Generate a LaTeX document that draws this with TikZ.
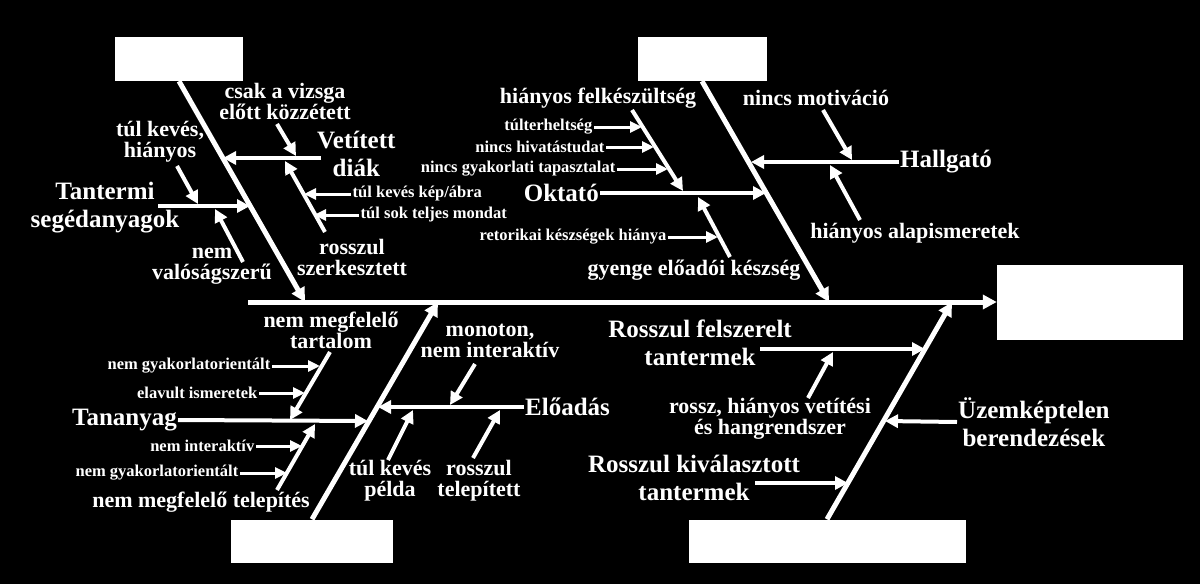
\documentclass[tikz,border=0pt]{standalone}
\usepackage{fontspec}
\setmainfont{Liberation Serif}
\usetikzlibrary{arrows.meta}

\tikzset{
  box/.style={fill=white, inner sep=0pt},
  bigtxt/.style={text=white, align=center, inner sep=1pt, font=\bfseries\fontsize{25}{28}\selectfont},
  midtxt/.style={text=white, align=center, inner sep=1pt, font=\bfseries\fontsize{22}{21}\selectfont},
  smalltxt/.style={text=white, inner sep=1.5pt, font=\bfseries\fontsize{16.5}{18}\selectfont},
  bone/.style={draw=white, line width=5pt, -{Triangle[length=14pt,width=14pt]}},
  twig/.style={draw=white, line width=4pt, -{Triangle[length=13pt,width=13pt]}},
  leaf/.style={draw=white, line width=3pt, -{Triangle[length=12pt,width=11pt]}},
}

\begin{document}
\begin{tikzpicture}[x=1pt, y=-1pt]
  \fill[black] (0,0) rectangle (1200,584);
  \useasboundingbox (0,0) rectangle (1200,584);

  \node[box, minimum width=128pt, minimum height=44pt] (c1) at (179,59) {};
  \node[box, minimum width=129pt, minimum height=44pt] (c2) at (702,59) {};
  \node[box, minimum width=162pt, minimum height=43pt] (c3) at (312,541) {};
  \node[box, minimum width=277pt, minimum height=43pt] (c4) at (827,541) {};
  \node[box, minimum width=186pt, minimum height=75pt] (head) at (1090,302) {};

  \coordinate (tail) at (248,302);
  \coordinate (s1) at (305,302);
  \coordinate (s2) at (829,302);
  \coordinate (s3) at (438,302);
  \coordinate (s4) at (952,302);

  \draw[bone] (tail) -- (head.west);
  \draw[bone] (c1.south) -- (s1);
  \draw[bone] (c2.south) -- (s2);
  \draw[bone] (c3.north) -- (s3);
  \draw[bone] (c4.north) -- (s4);

  % upper left
  \node[bigtxt, anchor=west] (vetit) at (316,154) {Vetített\\diák};
  \coordinate (vetitA) at (321,158);
  \coordinate (vetitB) at (223,158);
  \draw[twig] (vetitA) -- (vetitB);
  \node[midtxt] (csak) at (285,101) {csak a vizsga\\előtt közzétett};
  \coordinate (csakA) at (277,124);
  \coordinate (csakB) at (296,156);
  \draw[twig] (csakA) -- (csakB);
  \node[midtxt] (rossz1) at (352,257) {rosszul\\szerkesztett};
  \coordinate (rossz1A) at (325,232);
  \coordinate (rossz1B) at (285,161);
  \draw[twig] (rossz1A) -- (rossz1B);
  \node[smalltxt, anchor=west] (kepabra) at (351,194) {túl kevés kép/ábra};
  \coordinate (kepabraB) at (304,194);
  \draw[leaf] (kepabra.west) -- (kepabraB);
  \node[smalltxt, anchor=west] (mondat) at (359,215) {túl sok teljes mondat};
  \coordinate (mondatB) at (314,215);
  \draw[leaf] (mondat.west) -- (mondatB);

  \node[bigtxt] (tseg) at (105,208) {Tantermi\\segédanyagok};
  \coordinate (tsegA) at (158,206);
  \coordinate (tsegB) at (250,206);
  \draw[twig] (tsegA) -- (tsegB);
  \node[midtxt] (hiany1) at (160,142) {túl kevés,\\hiányos};
  \coordinate (hiany1A) at (177,166);
  \coordinate (hiany1B) at (198,204);
  \draw[twig] (hiany1A) -- (hiany1B);
  \node[midtxt] (valos) at (212,266) {nem\\valóságszerű};
  \coordinate (valosA) at (243,262);
  \coordinate (valosB) at (215,209);
  \draw[twig] (valosA) -- (valosB);

  % upper right
  \node[bigtxt, anchor=east] (oktato) at (600,193) {Oktató};
  \coordinate (oktatoB) at (766,193);
  \draw[twig] (oktato.east) -- (oktatoB);
  \node[midtxt] (felk) at (598,98) {hiányos felkészültség};
  \coordinate (felkA) at (632,110);
  \coordinate (felkB) at (683,191);
  \draw[twig] (felkA) -- (felkB);
  \node[smalltxt, anchor=east] (tulterh) at (594,127) {túlterheltség};
  \coordinate (tulterhB) at (642,127);
  \draw[leaf] (tulterh.east) -- (tulterhB);
  \node[smalltxt, anchor=east] (hivatas) at (606,147) {nincs hivatástudat};
  \coordinate (hivatasB) at (654,147);
  \draw[leaf] (hivatas.east) -- (hivatasB);
  \node[smalltxt, anchor=east] (gyak) at (617,169) {nincs gyakorlati tapasztalat};
  \coordinate (gyakB) at (668,169);
  \draw[leaf] (gyak.east) -- (gyakB);
  \node[midtxt] (gyenge) at (694,270) {gyenge előadói készség};
  \coordinate (gyengeA) at (730,257);
  \coordinate (gyengeB) at (698,197);
  \draw[twig] (gyengeA) -- (gyengeB);
  \node[smalltxt, anchor=east] (retor) at (668,237) {retorikai készségek hiánya};
  \coordinate (retorB) at (718,237);
  \draw[leaf] (retor.east) -- (retorB);

  \node[bigtxt, anchor=west] (hallg) at (899,162) {Hallgató};
  \coordinate (hallgB) at (751,162);
  \draw[twig] (hallg.west) -- (hallgB);
  \node[midtxt] (motiv) at (816,98) {nincs motiváció};
  \coordinate (motivA) at (823,110);
  \coordinate (motivB) at (852,160);
  \draw[twig] (motivA) -- (motivB);
  \node[midtxt] (alap) at (915,233) {hiányos alapismeretek};
  \coordinate (alapA) at (860,220);
  \coordinate (alapB) at (830,165);
  \draw[twig] (alapA) -- (alapB);

  % lower left
  \node[bigtxt, anchor=east] (tanany) at (178,420) {Tananyag};
  \coordinate (tananyB) at (368,421);
  \draw[twig] (tanany.east) -- (tananyB);
  \node[midtxt] (tartalom) at (331,330) {nem megfelelő\\tartalom};
  \coordinate (tartalomA) at (330,352);
  \coordinate (tartalomB) at (290,420);
  \draw[twig] (tartalomA) -- (tartalomB);
  \node[smalltxt, anchor=east] (gyak1) at (272,366) {nem gyakorlatorientált};
  \coordinate (gyak1B) at (320,366);
  \draw[leaf] (gyak1.east) -- (gyak1B);
  \node[smalltxt, anchor=east] (elav) at (259,393) {elavult ismeretek};
  \coordinate (elavB) at (305,393);
  \draw[leaf] (elav.east) -- (elavB);
  \node[midtxt] (telep) at (201,502) {nem megfelelő telepítés};
  \coordinate (telepA) at (277,490);
  \coordinate (telepB) at (315,424);
  \draw[twig] (telepA) -- (telepB);
  \node[smalltxt, anchor=east] (inter1) at (256,446) {nem interaktív};
  \coordinate (inter1B) at (302,446);
  \draw[leaf] (inter1.east) -- (inter1B);
  \node[smalltxt, anchor=east] (gyak2) at (240,473) {nem gyakorlatorientált};
  \coordinate (gyak2B) at (287,473);
  \draw[leaf] (gyak2.east) -- (gyak2B);

  \node[bigtxt, anchor=west] (eload) at (524,407) {Előadás};
  \coordinate (eloadB) at (378,407);
  \draw[twig] (eload.west) -- (eloadB);
  \node[midtxt] (monot) at (490,341) {monoton,\\nem interaktív};
  \coordinate (monotA) at (475,364);
  \coordinate (monotB) at (450,405);
  \draw[twig] (monotA) -- (monotB);
  \node[midtxt] (pelda) at (390,481) {túl kevés\\példa};
  \coordinate (peldaA) at (388,460);
  \coordinate (peldaB) at (413,410);
  \draw[twig] (peldaA) -- (peldaB);
  \node[midtxt] (rossz2) at (479,481) {rosszul\\telepített};
  \coordinate (rossz2A) at (473,458);
  \coordinate (rossz2B) at (500,410);
  \draw[twig] (rossz2A) -- (rossz2B);

  % lower right
  \node[bigtxt] (felsz) at (700,343) {Rosszul felszerelt\\tantermek};
  \coordinate (felszA) at (760,349);
  \coordinate (felszB) at (925,349);
  \draw[twig] (felszA) -- (felszB);
  \node[midtxt] (vetit2) at (770,419) {rossz, hiányos vetítési\\és hangrendszer};
  \coordinate (vetit2A) at (808,398);
  \coordinate (vetit2B) at (833,352);
  \draw[twig] (vetit2A) -- (vetit2B);
  \node[bigtxt] (kival) at (694,478) {Rosszul kiválasztott\\tantermek};
  \coordinate (kivalA) at (755,483);
  \coordinate (kivalB) at (848,483);
  \draw[twig] (kivalA) -- (kivalB);
  \node[bigtxt, anchor=west] (uzem) at (957,422) {Üzemképtelen\\berendezések};
  \coordinate (uzemB) at (885,421);
  \draw[twig] (uzem.west) -- (uzemB);
\end{tikzpicture}
\end{document}
